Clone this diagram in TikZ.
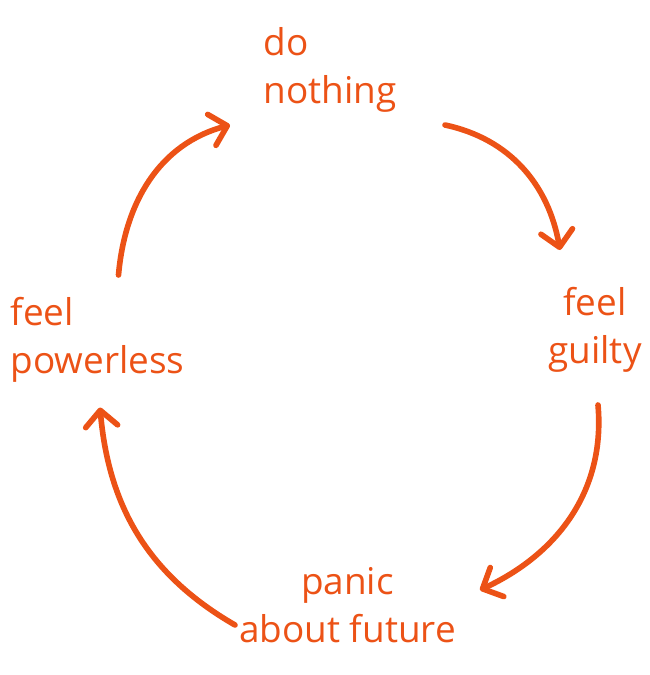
\documentclass[tikz,border=0pt]{standalone}
\usepackage{fontspec}
\setmainfont{Open Sans}
\usetikzlibrary{arrows.meta,calc}
\definecolor{hand}{HTML}{EC5216}
\tikzset{
	lbl/.style={text=hand,font=\fontsize{21}{27}\selectfont,inner sep=2pt},
	arr/.style={draw=hand,line width=3.2pt,line cap=round,-{Straight Barb[length=3.2mm,width=6.4mm,line width=3.2pt,round]}}
}
\begin{document}
\begin{tikzpicture}
	\useasboundingbox (0,0) rectangle (13,-13.5);
	\node[lbl,align=left] (nothing) at (6.6,-1.4) {do\\nothing};
	\node[lbl,align=center] (guilty) at (11.9,-6.6) {feel\\guilty};
	\node[lbl,align=center] (future) at (6.95,-12.1) {panic\\about future};
	\node[lbl,align=left] (powerless) at (1.95,-6.8) {feel\\powerless};
	\draw[arr] ($(nothing)+(2.3,-1.1)$) to[out=-12,in=100] ($(guilty)+(-0.7,1.6)$);
	\draw[arr] ($(guilty)+(0.06,-1.5)$) to[out=-85,in=25] ($(future)+(2.65,0.3)$);
	\draw[arr] ($(future)+(-2.25,-0.4)$) to[out=150,in=-85] ($(powerless)+(0.05,-1.35)$);
	\draw[arr] ($(powerless)+(0.42,1.3)$) to[out=85,in=195] ($(nothing)+(-2.0,-1.1)$);
\end{tikzpicture}
\end{document}
